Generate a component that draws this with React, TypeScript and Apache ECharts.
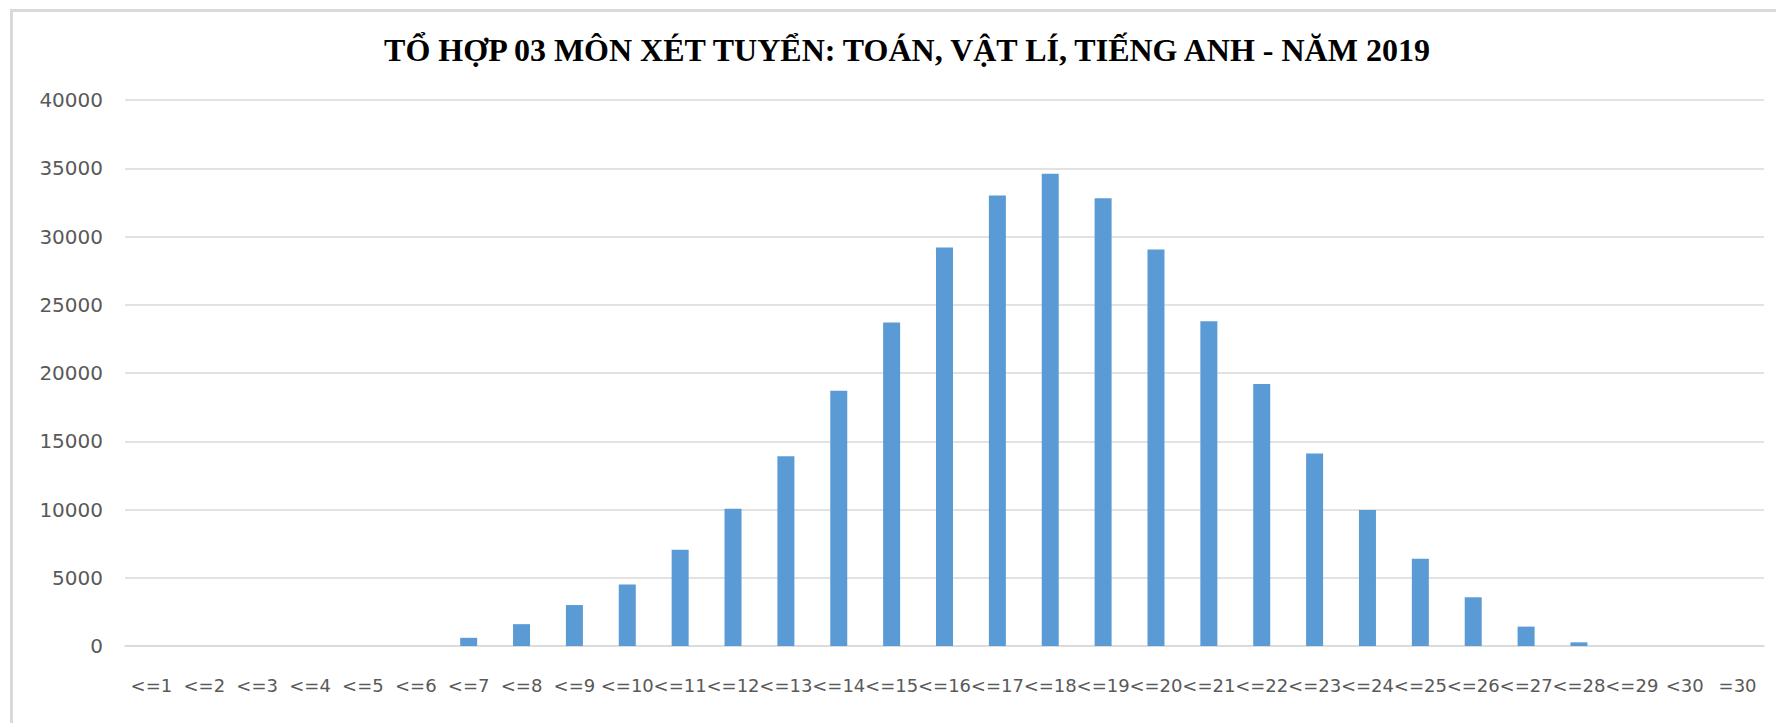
import React, { useEffect, useRef } from "react";
import * as echarts from "echarts";

const titleText = "TỔ HỢP 03 MÔN XÉT TUYỂN: TOÁN, VẬT LÍ, TIẾNG ANH - NĂM 2019";

const categories = [
  "<=1", "<=2", "<=3", "<=4", "<=5", "<=6", "<=7", "<=8", "<=9", "<=10",
  "<=11", "<=12", "<=13", "<=14", "<=15", "<=16", "<=17", "<=18", "<=19", "<=20",
  "<=21", "<=22", "<=23", "<=24", "<=25", "<=26", "<=27", "<=28", "<=29", "<30", "=30",
];

const counts = [
  0, 0, 0, 0, 0, 0, 600, 1600, 3000, 4500,
  7050, 10050, 13900, 18700, 23700, 29200, 33000, 34600, 32800, 29050,
  23800, 19200, 14100, 9970, 6400, 3570, 1420, 270, 0, 0, 0,
];

const yMin = 0;
const yMax = 40000;
const yStep = 5000;

export default function App() {
  const ref = useRef<HTMLDivElement>(null);

  useEffect(() => {
    if (!ref.current) return;
    const chart = echarts.init(ref.current, undefined, { renderer: "svg" });
    chart.setOption({
      animation: false,
      backgroundColor: "#ffffff",
      title: {
        text: titleText,
        left: 902,
        top: 29,
        textAlign: "center",
        textStyle: {
          fontFamily: "Liberation Serif",
          fontWeight: "bold",
          fontSize: 32,
          color: "#000000",
        },
      },
      graphic: [
        {
          type: "polyline",
          shape: { points: [[11.5, 730], [11.5, 10.5], [1790, 10.5]] },
          style: { stroke: "#d9d9d9", lineWidth: 3, fill: "none" },
          silent: true,
        },
      ],
      grid: { left: 125, right: 12, top: 100, bottom: 77, containLabel: false },
      xAxis: {
        type: "category",
        data: categories,
        axisTick: { show: false },
        axisLine: { lineStyle: { color: "#d9d9d9", width: 1.5 } },
        axisLabel: {
          interval: 0,
          margin: 30,
          fontFamily: "DejaVu Sans",
          fontSize: 18,
          color: "#595959",
        },
      },
      yAxis: {
        type: "value",
        min: yMin,
        max: yMax,
        interval: yStep,
        axisLine: { show: false },
        axisTick: { show: false },
        splitLine: { lineStyle: { color: "#d9d9d9", width: 1.5 } },
        axisLabel: {
          margin: 22,
          fontFamily: "DejaVu Sans",
          fontSize: 20,
          color: "#595959",
          formatter: (v: number) => String(v),
        },
      },
      series: [
        {
          type: "bar",
          data: counts,
          barWidth: 17,
          itemStyle: { color: "#5B9BD5" },
        },
      ],
    });
    return () => chart.dispose();
  }, []);

  return (
    <div
      ref={ref}
      style={{ position: "absolute", left: 0, top: 0, width: 1776, height: 723 }}
    />
  );
}
